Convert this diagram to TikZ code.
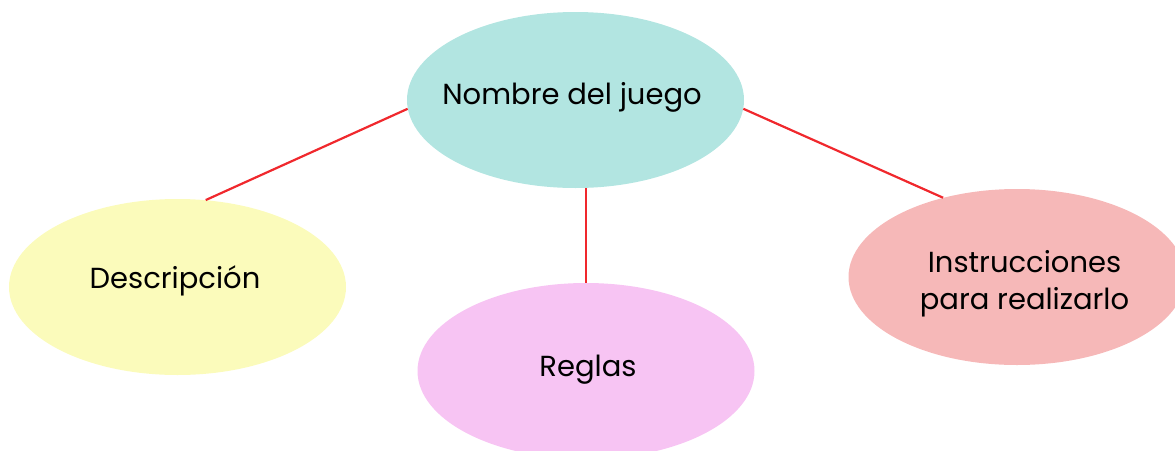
\documentclass[tikz,border=0pt]{standalone}
\usepackage{fontspec}
\setmainfont{Poppins}
\usetikzlibrary{shapes.geometric}
\definecolor{cteal}{HTML}{B2E5E1}
\definecolor{cyellow}{HTML}{FBFBBB}
\definecolor{cpink}{HTML}{F7C4F3}
\definecolor{csalmon}{HTML}{F6B8B8}
\definecolor{cred}{HTML}{F0282D}
\tikzset{
  bubble/.style={ellipse, draw=none, inner sep=0pt, minimum width=337pt, minimum height=176pt},
  lbl/.style={anchor=base, inner sep=0pt, font=\fontsize{29}{37}\selectfont, text=black},
  link/.style={draw=cred, line width=2.2pt}
}
\begin{document}
\begin{tikzpicture}[x=1pt,y=-1pt]
\useasboundingbox (0,0) rectangle (1175,450);
\node[bubble, fill=cteal] (top) at (575.5,100) {};
\node[bubble, fill=cyellow] (desc) at (177.5,287) {};
\node[bubble, fill=cpink] (reg) at (586,371) {};
\node[bubble, fill=csalmon] (ins) at (1017,277) {};
\node[lbl] (ttop) at (572,104) {Nombre del juego};
\node[lbl] (tdesc) at (175,288) {Descripción};
\node[lbl] (treg) at (588,376) {Reglas};
\node[lbl] (tins1) at (1024.5,272) {Instrucciones};
\node[lbl] (tins2) at (1024.5,309) {para realizarlo};
\draw[link] (top.183.4) -- (desc.72.6);
\draw[link] (reg.north) -- (reg.north |- top.south);
\draw[link] (top.-3.4) -- (ins.133);
\end{tikzpicture}
\end{document}
